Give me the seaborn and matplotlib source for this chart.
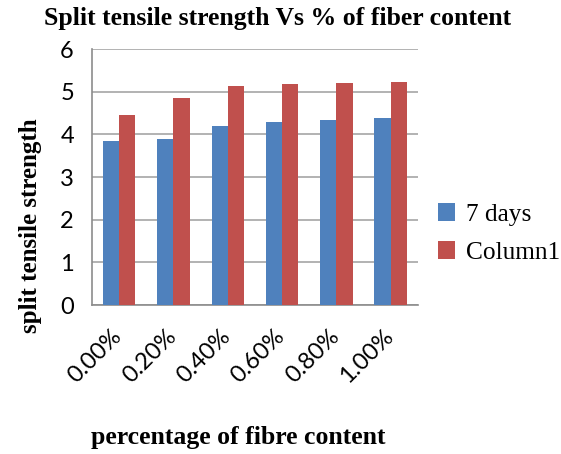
import matplotlib
matplotlib.use("Agg")
import matplotlib.pyplot as plt
import matplotlib.transforms as mtransforms
import pandas as pd
import seaborn as sns

# ── Data ──────────────────────────────────────────────────────────────────────
fiber = ["0.00%", "0.20%", "0.40%", "0.60%", "0.80%", "1.00%"]
days7 = [3.84, 3.89, 4.20, 4.29, 4.34, 4.38]
column1 = [4.45, 4.85, 5.13, 5.18, 5.20, 5.23]
series = ["7 days", "Column1"]

df = pd.DataFrame({
    "fiber": fiber * 2,
    "value": days7 + column1,
    "series": [series[0]] * len(fiber) + [series[1]] * len(fiber),
})

sns.set_style("white")
plt.rcParams["text.color"] = "black"
plt.rcParams["xtick.color"] = "black"
plt.rcParams["ytick.color"] = "black"
serif = ["Liberation Serif", "DejaVu Serif"]
sans = ["Lato", "DejaVu Sans"]

fig = plt.figure(figsize=(5.61, 4.54), dpi=100)
ax = fig.add_axes([0.164, 0.328, 0.581, 0.564])

sns.barplot(data=df, x="fiber", y="value", hue="series", order=fiber,
            hue_order=series, palette=["#4F81BD", "#C0504D"], width=0.6,
            saturation=1, linewidth=0, ax=ax, zorder=3)

ax.set_ylim(0, 6)
ax.set_xlim(-0.5, len(fiber) - 0.5)
ax.set_yticks(range(0, 7))
ax.yaxis.grid(True, color="#a6a6a6", linewidth=1.2, zorder=0)
ax.set_axisbelow(True)

for s in ["top", "right"]:
    ax.spines[s].set_visible(False)
for s in ["left", "bottom"]:
    ax.spines[s].set_color("#8c8c8c")
    ax.spines[s].set_linewidth(1.2)

# category boundary ticks on x
ax.set_xticks([i - 0.5 for i in range(len(fiber) + 1)], minor=True)
ax.tick_params(axis="x", which="minor", length=10, width=1.2, color="#8c8c8c")
ax.tick_params(axis="x", which="major", length=0, pad=15)
ax.tick_params(axis="y", length=10, width=1.2, color="#8c8c8c", pad=3)

ax.set_xticks(range(len(fiber)))
ax.set_xticklabels(fiber, rotation=45, ha="right", rotation_mode="anchor",
                   family=sans, fontsize=17)
shift = mtransforms.ScaledTranslation(-0.08, 0, fig.dpi_scale_trans)
for lbl in ax.get_xticklabels():
    lbl.set_transform(lbl.get_transform() + shift)
for lbl in ax.get_yticklabels():
    lbl.set_family(sans)
    lbl.set_fontsize(17)

ax.set_xlabel("")
ax.set_ylabel("")
fig.text(0.055, 0.502, "split tensile strength", family=serif,
         fontweight="bold", fontsize=18, rotation=90, ha="center", va="center")
fig.text(0.424, 0.037, "percentage of fibre content", family=serif,
         fontweight="bold", fontsize=18.5, ha="center", va="center")
fig.text(0.495, 0.96, "Split tensile strength Vs % of fiber content",
         family=serif, fontweight="bold", fontsize=18.5, ha="center", va="center")

ax.legend(loc="center left", bbox_to_anchor=(0.99, 0.28), frameon=False,
          prop={"family": serif, "size": 18.3}, handlelength=0.7,
          handleheight=0.7, handletextpad=0.4, labelspacing=0.6)

plt.savefig("out.png", dpi=100)
plt.close()
